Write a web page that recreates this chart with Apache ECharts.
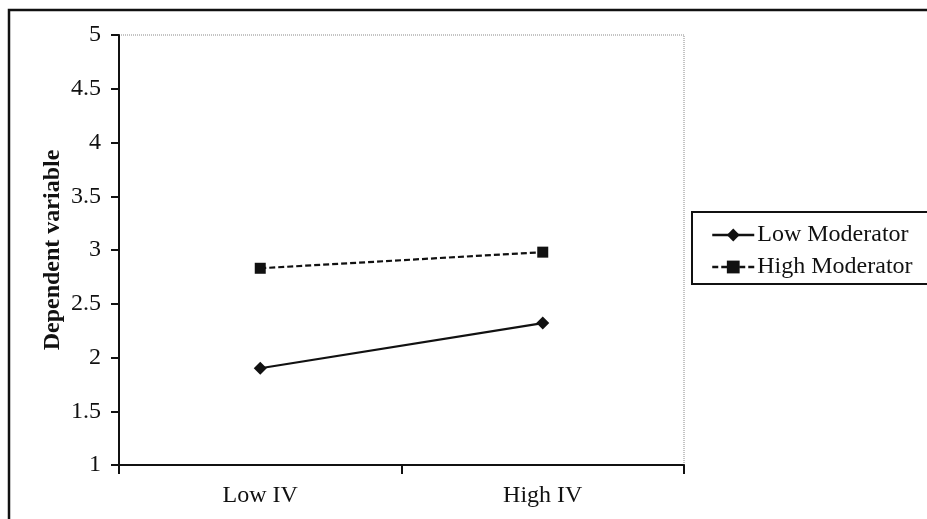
<!DOCTYPE html>
<html>
<head>
<meta charset="utf-8">
<script src="https://cdn.jsdelivr.net/npm/echarts@6/dist/echarts.min.js"></script>
<style>html,body{margin:0;padding:0;background:#fff;}#c{width:927px;height:519px;}</style>
</head>
<body>
<div id="c"></div>
<script>
var categories = ['Low IV', 'High IV'];
var lowModerator = [1.90, 2.32];
var highModerator = [2.83, 2.98];
var seriesNames = ['Low Moderator', 'High Moderator'];
var yAxisTitle = 'Dependent variable';

var font = 'Liberation Serif, Times New Roman, serif';
var chart = echarts.init(document.getElementById('c'));
chart.setOption({
  backgroundColor: '#fff',
  animation: false,
  grid: {left: 119, right: 243, top: 35, bottom: 54, show: true, borderColor: '#888', borderWidth: 1, borderType: 'dotted', backgroundColor: 'transparent'},
  graphic: [
    {type: 'rect', shape: {x: 9, y: 10, width: 940, height: 540}, style: {fill: 'none', stroke: '#111', lineWidth: 2.5}, z: -1},
    {type: 'rect', shape: {x: 692, y: 212, width: 260, height: 72}, style: {fill: 'none', stroke: '#111', lineWidth: 2}, z: -1}
  ],
  legend: {
    orient: 'vertical', left: 706, top: 218, itemGap: 8, itemWidth: 42, itemHeight: 16,
    data: seriesNames,
    lineStyle: {width: 2.5},
    textStyle: {fontFamily: font, fontSize: 24, color: '#111', padding: [0,0,0,-2]}
  },
  xAxis: {
    type: 'category', data: categories, boundaryGap: true,
    axisLine: {lineStyle: {color: '#111', width: 2}},
    axisTick: {show: true, length: 9, lineStyle: {color: '#111', width: 2}},
    axisLabel: {fontFamily: font, fontSize: 24, color: '#111', margin: 19},
    splitLine: {show: false}
  },
  yAxis: {
    type: 'value', min: 1, max: 5, interval: 0.5,
    name: yAxisTitle, nameLocation: 'middle', nameRotate: 90, nameGap: 54, nameMoveOverlap: false,
    nameTextStyle: {fontFamily: font, fontSize: 24, fontWeight: 'bold', color: '#111'},
    axisLine: {show: true, lineStyle: {color: '#111', width: 2}},
    axisTick: {show: true, length: 8, lineStyle: {color: '#111', width: 2}},
    axisLabel: {fontFamily: font, fontSize: 24, color: '#111', margin: 18},
    splitLine: {show: false}
  },
  series: [
    {name: seriesNames[0], type: 'line', data: lowModerator, symbol: 'diamond', symbolSize: 13,
     itemStyle: {color: '#111'}, lineStyle: {color: '#111', width: 2.2, type: 'solid'}},
    {name: seriesNames[1], type: 'line', data: highModerator, symbol: 'rect', symbolSize: 11,
     itemStyle: {color: '#111'}, lineStyle: {color: '#111', width: 2.2, type: [6, 3]}}
  ]
});
</script>
</body>
</html>
